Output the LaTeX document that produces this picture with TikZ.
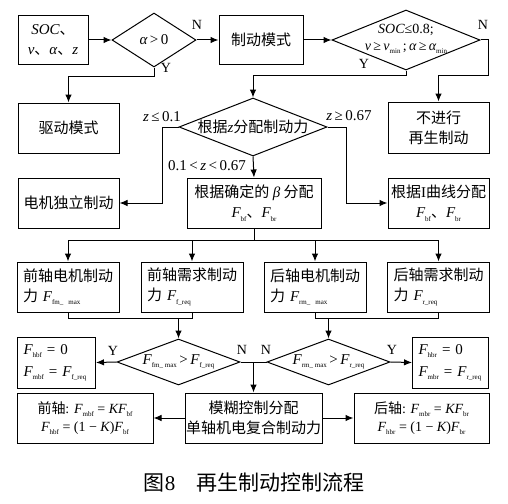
\documentclass[tikz,border=0pt]{standalone}
\usepackage{fontspec}
\setmainfont{Liberation Serif}
\newfontfamily\cjk{Noto Sans CJK SC}
\newfontfamily\lat{Liberation Serif}
\usetikzlibrary{arrows.meta,shapes.geometric}
\newcommand{\V}[1]{{\lat\itshape #1}}
\newcommand{\U}[1]{{\lat #1}}
\newcommand{\Sb}[1]{\raisebox{-0.45ex}{\lat\fontsize{7}{7}\selectfont #1}}
\begin{document}
\begin{tikzpicture}[x=1pt,y=-1pt,
  box/.style={draw, line width=1pt, inner sep=1pt, align=center,
    font=\cjk\fontsize{15}{20}\selectfont},
  rowbox/.style={box, align=left, text width=90pt, inner xsep=6pt, minimum height=50pt},
  fbox/.style={box, align=left, text width=66pt, inner xsep=6pt, minimum height=51pt,
    font=\lat\fontsize{15}{22}\selectfont},
  dia/.style={draw, diamond, line width=1pt, inner sep=0pt},
  dtext/.style={inner sep=0pt, align=center, font=\cjk\fontsize{15}{18}\selectfont},
  lab/.style={inner sep=0pt, font=\lat\fontsize{14}{14}\selectfont},
  line/.style={line width=1pt},
  arr/.style={line width=1pt, -{Latex[length=8pt,width=6.5pt]}}]
\fill[white] (0,0) rectangle (508,503);
\useasboundingbox (0,0) rectangle (508,503);

% row 1
\node[box, minimum width=70pt, minimum height=49pt] (inp) at (53,40)
  {\V{SOC}、\\\V{v}、\V{α}、\V{z}};
\node[dia, minimum width=84pt, minimum height=54pt] (d1) at (154,40) {};
\node[dtext] (d1t) at (154,40) {\V{α}\U{\,>\,0}};
\node[box, minimum width=84pt, minimum height=49pt] (mode) at (261,40) {制动模式};
\node[dia, minimum width=148pt, minimum height=60pt] (d2) at (406,40) {};
\node[dtext, font=\lat\fontsize{14}{17}\selectfont] (d2t) at (406,39)
  {\V{SOC}≤0.8;\\\V{v}\,≥\,\V{v}\Sb{min}\,;\,\V{α}\,≥\,\V{α}\Sb{min}};

% row 2
\node[box, minimum width=101pt, minimum height=50pt] (drive) at (68.5,128) {驱动模式};
\node[dia, minimum width=148pt, minimum height=58pt] (d3) at (253,127) {};
\node[dtext] (d3t) at (253,127) {根据\V{z}分配制动力};
\node[box, minimum width=101pt, minimum height=51pt] (nr) at (438.5,127.5) {不进行\\再生制动};

% row 3
\node[box, minimum width=101pt, minimum height=50pt] (motor) at (68.5,203) {电机独立制动};
\node[box, minimum width=134pt, minimum height=50pt] (beta) at (254,203)
  {根据确定的 \V{β} 分配\\\V{F}\Sb{bf}、\V{F}\Sb{br}};
\node[box, minimum width=101pt, minimum height=50pt] (icurve) at (438.5,203)
  {根据\U{I}曲线分配\\\V{F}\Sb{bf}、\V{F}\Sb{br}};

% row 4
\node[rowbox] (r1) at (68,287) {前轴电机制动\\力 \V{F}\Sb{fm\_ max}};
\node[rowbox] (r2) at (192,287) {前轴需求制动\\力 \V{F}\Sb{f\_req}};
\node[rowbox] (r3) at (315,287) {后轴电机制动\\力 \V{F}\Sb{rm\_ max}};
\node[rowbox] (r4) at (438.5,287) {后轴需求制动\\力 \V{F}\Sb{r\_req}};

% row 5
\node[fbox] (hbf) at (56.5,362.5) {\V{F}\Sb{hbf} = 0\\\V{F}\Sb{mbf} = \V{F}\Sb{f\_req}};
\node[dia, minimum width=123pt, minimum height=46pt] (d4) at (178.5,362) {};
\node[dtext, font=\lat\fontsize{15}{18}\selectfont] (d4t) at (178.5,362)
  {\V{F}\Sb{fm\_ max}\,>\,\V{F}\Sb{f\_req}};
\node[dia, minimum width=123pt, minimum height=46pt] (d5) at (328.5,362) {};
\node[dtext, font=\lat\fontsize{15}{18}\selectfont] (d5t) at (328.5,362)
  {\V{F}\Sb{rm\_ max}\,>\,\V{F}\Sb{r\_req}};
\node[fbox, text width=64pt] (hbr) at (450.5,362.5) {\V{F}\Sb{hbr} = 0\\\V{F}\Sb{mbr} = \V{F}\Sb{r\_req}};

% row 6
\node[box, minimum width=136pt, minimum height=50pt, font=\cjk\fontsize{14}{18}\selectfont] (front) at (85,418)
  {前轴\U{: }\V{F}\Sb{mbf}\U{ = }\V{KF}\Sb{bf}\\\V{F}\Sb{hbf}\U{ = (1 − }\V{K}\U{)}\V{F}\Sb{bf}};
\node[box, minimum width=135pt, minimum height=50pt] (fuzzy) at (253.5,418)
  {模糊控制分配\\单轴机电复合制动力};
\node[box, minimum width=135pt, minimum height=50pt, font=\cjk\fontsize{14}{18}\selectfont] (rear) at (421.5,418)
  {后轴\U{: }\V{F}\Sb{mbr}\U{ = }\V{KF}\Sb{br}\\\V{F}\Sb{hbr}\U{ = (1 − }\V{K}\U{)}\V{F}\Sb{br}};

% caption
\node[inner sep=0pt, font=\cjk\fontsize{21}{21}\selectfont] (cap) at (254,483)
  {图\U{8}\hspace{1em}再生制动控制流程};

% labels
\node[lab] (n1) at (197,25) {N};
\node[lab] (y1) at (166,68) {Y};
\node[lab] (n2) at (483,25) {N};
\node[lab] (y2) at (364,64) {Y};
\node[lab, font=\lat\fontsize{15}{15}\selectfont] (c1) at (162,117) {\V{z}\,≤\,0.1};
\node[lab, font=\lat\fontsize{15}{15}\selectfont] (c2) at (349,116) {\V{z}\,≥\,0.67};
\node[lab, font=\lat\fontsize{15}{15}\selectfont] (c3) at (207,166) {0.1\,<\,\V{z}\,<\,0.67};
\node[lab] (y4) at (113,351) {Y};
\node[lab] (n4) at (242,350) {N};
\node[lab] (n5) at (266,350) {N};
\node[lab] (y5) at (392,350) {Y};

% helper coordinates
\coordinate (bus) at (254,240);
\coordinate (j1) at (178.5,318);
\coordinate (j2) at (328.5,318);
\coordinate (j3) at (253.5,362);

% connectors
\draw[arr] (inp.east) -- (d1.west);
\draw[arr] (d1.east) -- (mode.west);
\draw[arr] (mode.east) -- (d2.west);
\draw[arr] (d1.south) -- ++(0,9) -| (drive.north);
\draw[arr] (d2.south) -- ++(0,5) -| (d3.north);
\draw[arr] (d2.east) -- ++(8,0) -- ++(0,35) -| (nr.north);
\draw[arr] (d3.west) -- ++(-16,0) |- (motor.east);
\draw[arr] (d3.east) -- ++(19,0) |- (icurve.west);
\draw[arr] (d3.south) -- (beta.north);
\draw[line] (beta.south) -- (bus);
\draw[line] (r1.north |- bus) -- (r4.north |- bus);
\draw[arr] (r1.north |- bus) -- (r1.north);
\draw[arr] (r2.north |- bus) -- (r2.north);
\draw[arr] (r3.north |- bus) -- (r3.north);
\draw[arr] (r4.north |- bus) -- (r4.north);
\draw[line] (r1.south) -- (r1.south |- j1) -- (r2.south |- j1) -- (r2.south);
\draw[line] (r3.south) -- (r3.south |- j2) -- (r4.south |- j2) -- (r4.south);
\draw[arr] (j1) -- (d4.north);
\draw[arr] (j2) -- (d5.north);
\draw[arr] (d4.west) -- (hbf.east);
\draw[arr] (d5.east) -- (hbr.west);
\draw[line] (d4.east) -- (d5.west);
\draw[arr] (j3) -- (fuzzy.north);
\draw[arr] (fuzzy.west) -- (front.east);
\draw[arr] (fuzzy.east) -- (rear.west);
\end{tikzpicture}
\end{document}
